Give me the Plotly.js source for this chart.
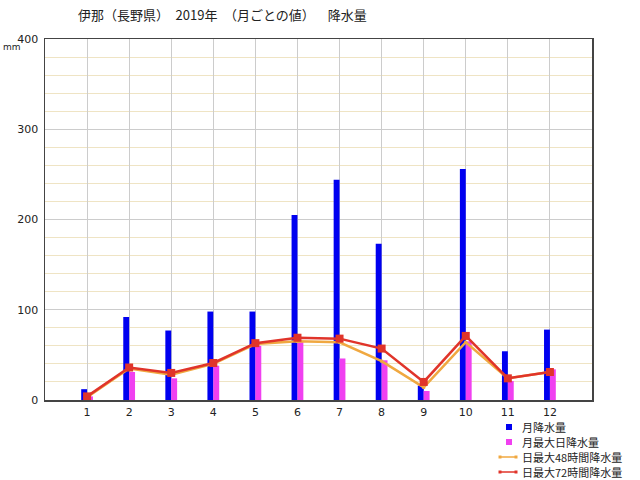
<!DOCTYPE html>
<html>
<head>
<meta charset="utf-8">
<script src="https://cdn.plot.ly/plotly-3.0.1.min.js"></script>
<style>
  html, body { margin: 0; padding: 0; background: #fff; }
  #chart { width: 640px; height: 480px; }
</style>
</head>
<body>
<div id="chart"></div>
<script>
const months = [1, 2, 3, 4, 5, 6, 7, 8, 9, 10, 11, 12];
const monthLabels = ['1', '2', '3', '4', '5', '6', '7', '8', '9', '10', '11', '12'];

// 月降水量
const monthlyTotal = [12, 92, 77, 98, 98, 205, 244, 173, 16, 256, 54, 78];
// 月最大日降水量
const maxDaily = [4, 31, 24, 38, 60, 65, 46, 44, 10, 65, 21, 34];
// 日最大48時間降水量
const max48h = [3, 35, 28, 40, 62, 65, 64, 43, 14, 64, 24, 31];
// 日最大72時間降水量
const max72h = [4, 36, 30, 41, 63, 69, 68, 57, 20, 71, 24, 31];

const seriesNames = ['月降水量', '月最大日降水量', '日最大48時間降水量', '日最大72時間降水量'];
const seriesColors = ['#0000f0', '#f040f0', '#f0a840', '#e0342a'];

const jpFont = '"Noto Sans CJK JP", "DejaVu Sans", sans-serif';

// plot area in pixels (matches margins below)
const M = { l: 45, r: 48, t: 39, b: 80 };
const plotW = 640 - M.l - M.r;
const plotH = 480 - M.t - M.b;
const px = (x) => (x - M.l) / plotW;
const py = (y) => (480 - M.b - y) / plotH;

const traces = [
  {
    x: months,
    y: monthlyTotal,
    type: 'bar',
    name: seriesNames[0],
    width: 0.14,
    offset: -0.14,
    marker: { color: seriesColors[0] },
    hoverinfo: 'y'
  },
  {
    x: months,
    y: maxDaily,
    type: 'bar',
    name: seriesNames[1],
    width: 0.14,
    offset: 0,
    marker: { color: seriesColors[1] },
    hoverinfo: 'y'
  },
  {
    x: months,
    y: max48h,
    type: 'scatter',
    mode: 'lines+markers',
    name: seriesNames[2],
    line: { color: seriesColors[2], width: 2.5 },
    marker: { color: seriesColors[2], size: 3, symbol: 'square' },
    hoverinfo: 'y'
  },
  {
    x: months,
    y: max72h,
    type: 'scatter',
    mode: 'lines+markers',
    name: seriesNames[3],
    line: { color: seriesColors[3], width: 2.5 },
    marker: { color: seriesColors[3], size: 8, symbol: 'square' },
    hoverinfo: 'y'
  }
];

// hand-drawn legend, the built-in one is too tall for the space under the axis
const legendShapes = [];
const legendNotes = [];
seriesNames.forEach((name, i) => {
  const cy = 427 + i * 15;
  if (i < 2) {
    legendShapes.push({
      type: 'rect', xref: 'paper', yref: 'paper',
      x0: px(506), x1: px(512), y0: py(cy - 3), y1: py(cy + 3),
      fillcolor: seriesColors[i], line: { width: 0 }
    });
  } else {
    legendShapes.push({
      type: 'line', xref: 'paper', yref: 'paper',
      x0: px(500), x1: px(516), y0: py(cy), y1: py(cy),
      line: { color: seriesColors[i], width: 1.5 }
    });
    [500, 516].forEach((ex) => {
      legendShapes.push({
        type: 'rect', xref: 'paper', yref: 'paper',
        x0: px(ex - 1.5), x1: px(ex + 1.5), y0: py(cy - 1.5), y1: py(cy + 1.5),
        fillcolor: seriesColors[i], line: { width: 0 }
      });
    });
  }
  legendNotes.push({
    text: name, xref: 'paper', yref: 'paper',
    x: px(521), y: py(cy), xanchor: 'left', yanchor: 'middle',
    showarrow: false, borderpad: 0,
    font: { family: jpFont, size: 11, color: '#222' }
  });
});

const layout = {
  width: 640,
  height: 480,
  margin: { l: M.l, r: M.r, t: M.t, b: M.b, autoexpand: false },
  paper_bgcolor: '#ffffff',
  plot_bgcolor: '#ffffff',
  font: { family: jpFont, size: 11, color: '#222' },
  barmode: 'overlay',
  showlegend: false,
  title: {
    text: '伊那（長野県）\u30002019年\u3000（月ごとの値）\u3000\u2002降水量',
    font: { family: jpFont, size: 13, color: '#222' },
    xref: 'container',
    x: 0.122,
    xanchor: 'left',
    yref: 'container',
    y: 0.968,
    yanchor: 'middle'
  },
  xaxis: {
    range: [0, 13],
    tickvals: months,
    ticktext: monthLabels,
    showgrid: true,
    gridcolor: '#cccccc',
    gridwidth: 1,
    zeroline: false,
    showline: true,
    linecolor: '#444444',
    linewidth: 1.5,
    mirror: true,
    ticks: '',
    ticklabelstandoff: 1,
    tickfont: { family: '"DejaVu Sans", sans-serif', size: 11, color: '#222' },
    fixedrange: true
  },
  yaxis: {
    range: [0, 400],
    dtick: 100,
    showgrid: true,
    gridcolor: '#cccccc',
    gridwidth: 1,
    minor: { dtick: 20, showgrid: true, gridcolor: '#efe4c4', gridwidth: 1 },
    zeroline: false,
    showline: true,
    linecolor: '#444444',
    linewidth: 1.5,
    mirror: true,
    ticks: '',
    ticklabelstandoff: 3,
    tickfont: { family: '"DejaVu Sans", sans-serif', size: 11, color: '#222' },
    fixedrange: true
  },
  shapes: legendShapes,
  annotations: [
    {
      text: 'mm',
      xref: 'paper',
      yref: 'paper',
      x: px(12),
      y: py(47),
      xanchor: 'center',
      yanchor: 'middle',
      showarrow: false,
      font: { family: '"DejaVu Sans", sans-serif', size: 9, color: '#222' }
    },
    ...legendNotes
  ]
};

Plotly.newPlot('chart', traces, layout, { displayModeBar: false, staticPlot: true });
</script>
</body>
</html>
